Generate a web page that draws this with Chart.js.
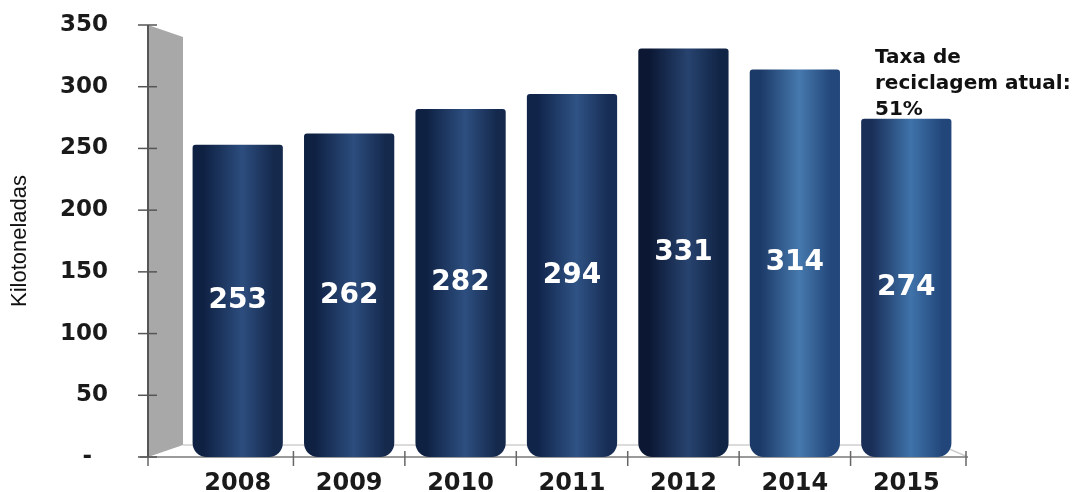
<!DOCTYPE html>
<html>
<head>
<meta charset="utf-8">
<script src="https://cdn.jsdelivr.net/npm/chart.js@4.4.1/dist/chart.umd.min.js"></script>
<style>
  html, body { margin: 0; padding: 0; background: #fff; overflow: hidden; }
  #wrap { position: relative; width: 1091px; height: 492px; }
</style>
</head>
<body>
<div id="wrap"><canvas id="chart"></canvas></div>
<script>
// Reciclagem - kilotoneladas por ano
const years = ['2008', '2009', '2010', '2011', '2012', '2014', '2015'];
const kilotons = [253, 262, 282, 294, 331, 314, 274];
const yTicks = [0, 50, 100, 150, 200, 250, 300, 350];
const noteLines = ['Taxa de', 'reciclagem atual:', '51%'];

// cylinder shading per bar: [edge, highlight, right edge]
const barShades = [
    ['#0f2143', '#2c4d7e', '#15294d'],
    ['#0f2143', '#2c4d7e', '#15294d'],
    ['#0f2143', '#2d4f80', '#15294d'],
    ['#10244a', '#2f5385', '#172d55'],
    ['#0b1733', '#27436f', '#112546'],
    ['#1c3a68', '#4679ae', '#23477a'],
    ['#1a2f58', '#3f73aa', '#22467a']
];

const DEPTH_X = 35;
const DEPTH_Y = 12;

function cylinderFill(ctx) {
    const chart = ctx.chart;
    const i = ctx.dataIndex;
    const shade = barShades[i] || barShades[0];
    if (!chart.chartArea || ctx.type !== 'data') return shade[1];
    const xs = chart.scales.x;
    const cx = xs.getPixelForValue(i);
    const w = (chart.chartArea.right - chart.chartArea.left) / years.length * 0.81;
    const g = chart.ctx.createLinearGradient(cx - w / 2, 0, cx + w / 2, 0);
    g.addColorStop(0, shade[0]);
    g.addColorStop(0.12, shade[0]);
    g.addColorStop(0.55, shade[1]);
    g.addColorStop(0.9, shade[2]);
    g.addColorStop(1, shade[2]);
    return g;
}

// gray wall, floor and axis lines in the 3D style
const frame3d = {
    id: 'frame3d',
    beforeDatasetsDraw(chart) {
        const { ctx, chartArea, scales } = chart;
        const y = scales.y, x = scales.x;
        const yTop = y.getPixelForValue(350);
        const yBot = y.getPixelForValue(0);
        const ax = chartArea.left - DEPTH_X + 1;
        ctx.save();
        // wall
        ctx.fillStyle = '#a8a8a8';
        ctx.beginPath();
        ctx.moveTo(ax, yTop);
        ctx.lineTo(ax + DEPTH_X, yTop + DEPTH_Y);
        ctx.lineTo(ax + DEPTH_X, yBot - DEPTH_Y);
        ctx.lineTo(ax, yBot);
        ctx.closePath();
        ctx.fill();
        // floor
        ctx.strokeStyle = '#cfcfcf';
        ctx.lineWidth = 1.5;
        ctx.beginPath();
        ctx.moveTo(ax + DEPTH_X, yBot - DEPTH_Y);
        ctx.lineTo(chartArea.right - 22, yBot - DEPTH_Y);
        ctx.lineTo(chartArea.right + 6, yBot);
        ctx.stroke();
        ctx.strokeStyle = '#9a9a9a';
        ctx.lineWidth = 2;
        ctx.beginPath();
        ctx.moveTo(ax - 8, yBot);
        ctx.lineTo(chartArea.right + 6, yBot);
        ctx.stroke();
        // x separators
        ctx.strokeStyle = '#666';
        ctx.lineWidth = 1.5;
        const seps = [ax];
        for (let i = 0; i < years.length; i++) {
            const right = i < years.length - 1
                ? (x.getPixelForValue(i) + x.getPixelForValue(i + 1)) / 2
                : chartArea.right + 4;
            seps.push(right);
        }
        seps.forEach(sx => {
            ctx.beginPath();
            ctx.moveTo(sx, yBot - 6);
            ctx.lineTo(sx, yBot + 9);
            ctx.stroke();
        });
        // y axis line + ticks
        ctx.strokeStyle = '#555';
        ctx.lineWidth = 2;
        ctx.beginPath();
        ctx.moveTo(ax, yTop);
        ctx.lineTo(ax, yBot);
        ctx.stroke();
        ctx.lineWidth = 1.5;
        yTicks.forEach(v => {
            const py = y.getPixelForValue(v);
            ctx.beginPath();
            ctx.moveTo(ax - 10, py);
            ctx.lineTo(ax + 9, py);
            ctx.stroke();
        });
        ctx.restore();
    }
};

// value inside each bar + note on the right
const barText = {
    id: 'barText',
    afterDatasetsDraw(chart) {
        const { ctx, chartArea } = chart;
        const meta = chart.getDatasetMeta(0);
        ctx.save();
        ctx.fillStyle = '#ffffff';
        ctx.font = 'bold 28px "DejaVu Sans"';
        ctx.textAlign = 'center';
        ctx.textBaseline = 'middle';
        meta.data.forEach((bar, i) => {
            ctx.fillText(String(kilotons[i]), bar.x, (bar.y + bar.base) / 2);
        });
        ctx.fillStyle = '#111';
        ctx.font = 'bold 20px "DejaVu Sans"';
        ctx.textAlign = 'left';
        ctx.textBaseline = 'alphabetic';
        noteLines.forEach((t, k) => {
            ctx.fillText(t, chartArea.right - 87, 63 + k * 26);
        });
        ctx.restore();
    }
};

new Chart(document.getElementById('chart'), {
    type: 'bar',
    data: {
        labels: years,
        datasets: [{
            data: kilotons,
            backgroundColor: cylinderFill,
            borderRadius: { topLeft: 3, topRight: 3, bottomLeft: 14, bottomRight: 14 },
            borderSkipped: false,
            barPercentage: 0.81,
            categoryPercentage: 1.0
        }]
    },
    options: {
        responsive: true,
        maintainAspectRatio: false,
        animation: false,
        layout: { padding: { top: 25, right: 129, left: 0, bottom: 0 } },
        plugins: {
            legend: { display: false },
            tooltip: { enabled: false }
        },
        scales: {
            x: {
                grid: { display: false },
                border: { display: false },
                ticks: {
                    color: '#1a1a1a',
                    font: { family: 'DejaVu Sans', weight: 'bold', size: 24 },
                    padding: 4
                },
                afterFit(s) { s.height = 35; }
            },
            y: {
                min: 0,
                max: 350,
                grid: { display: false },
                border: { display: false },
                afterBuildTicks(s) { s.ticks = yTicks.map(v => ({ value: v })); },
                ticks: {
                    color: '#1a1a1a',
                    font: { family: 'DejaVu Sans', weight: 'bold', size: 23 },
                    padding: 66,
                    callback: v => (v === 0 ? '-  ' : v)
                },
                title: {
                    display: true,
                    text: 'Kilotoneladas',
                    color: '#111',
                    font: { family: 'Liberation Sans', size: 22 },
                    padding: { top: 7, bottom: 0 }
                },
                afterFit(s) {
                    s.width = 182;
                    // the big label padding should not push the plot area in
                    s.paddingTop = 0;
                    s.paddingBottom = 0;
                }
            }
        }
    },
    plugins: [frame3d, barText]
});
</script>
</body>
</html>
